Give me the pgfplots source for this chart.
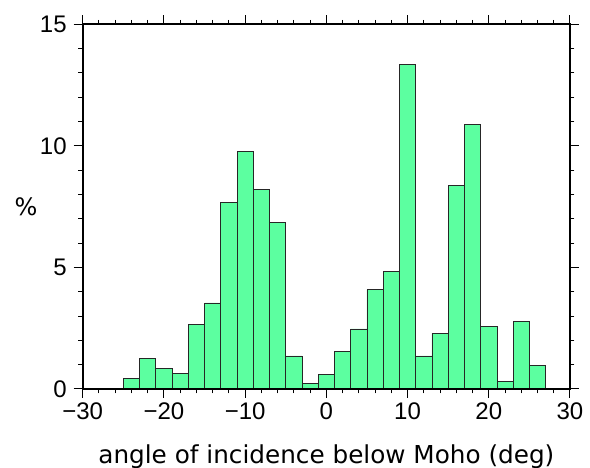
\documentclass[border=0pt]{standalone}
\usepackage{pgfplots}
\pgfplotsset{compat=1.18}
\usepackage{fontspec}
\setmainfont{DejaVu Sans}
\newfontfamily\tickfont{Liberation Sans}
\definecolor{barfill}{RGB}{92,255,160}
\begin{document}
\begin{tikzpicture}
\begin{axis}[
  at={(0,0)}, anchor=south west,
  scale only axis, width=487.3pt, height=364.7pt,
  xmin=-30, xmax=30, ymin=0, ymax=15,
  xtick={-30,-20,...,30}, xticklabels={−30,−20,−10,0,10,20,30},
  ytick={0,5,10,15}, yticklabels={0,5,10,15},
  minor x tick num=4, minor y tick num=4,
  tick align=outside, tick pos=both,
  xticklabel pos=lower, yticklabel pos=left,
  major tick length=9pt, minor tick length=4.5pt,
  axis line style={line width=2pt},
  tick style={black, line width=1pt},
  ticklabel style={font=\tickfont\fontsize{24}{24}\selectfont},
  yticklabel style={xshift=-3.5pt},
  xticklabel style={yshift=-1pt},
  axis on top,
]
\addplot[ybar interval, fill=barfill, draw=black!85, line width=0.8pt] coordinates {
(-25,0.44) (-23,1.26) (-21,0.85) (-19,0.64) (-17,2.66) (-15,3.54) (-13,7.66)
(-11,9.78) (-9,8.20) (-7,6.86) (-5,1.36) (-3,0.23) (-1,0.60) (1,1.54)
(3,2.47) (5,4.09) (7,4.83) (9,13.33) (11,1.36) (13,2.29) (15,8.36)
(17,10.89) (19,2.58) (21,0.30) (23,2.76) (25,0.97) (27,0.97)};
\end{axis}
\node[font=\fontsize{24.7}{24.7}\selectfont, anchor=base] at (243.65pt,-74.3pt) {angle of incidence below Moho (deg)};
\node[font=\fontsize{24}{24}\selectfont] at (-56.7pt,182.35pt) {\%};
\pgfresetboundingbox
\path[use as bounding box] (-82.7pt,-79pt) rectangle (507.3pt,389pt);
\end{tikzpicture}
\end{document}
